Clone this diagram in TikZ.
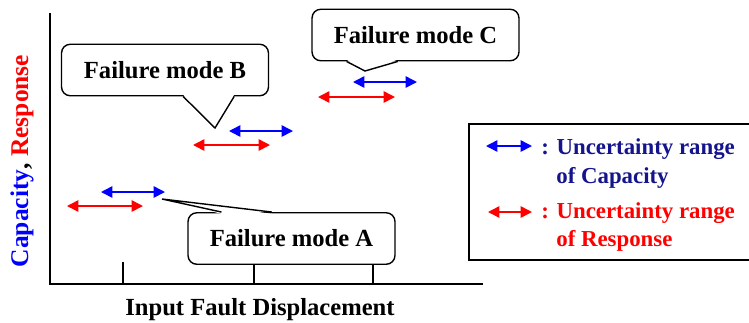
\documentclass[tikz,border=0pt]{standalone}
\usepackage{fontspec}
\setmainfont{Liberation Serif}
\usetikzlibrary{arrows.meta,calc}

\definecolor{capblue}{RGB}{0,0,255}
\definecolor{capnavy}{RGB}{20,20,140}
\definecolor{resred}{RGB}{255,0,0}

\tikzset{
  rangebar/.style={line width=0.9pt, {Triangle[length=6.5pt,width=6.5pt]}-{Triangle[length=6.5pt,width=6.5pt]}},
  caprange/.style={rangebar, capblue},
  resrange/.style={rangebar, resred},
  modebox/.style={draw, line width=0.8pt, rounded corners=5pt, fill=white,
    minimum width=4.14cm, minimum height=1.03cm, font=\fontsize{14}{16}\selectfont\bfseries},
  pointer/.style={line width=0.8pt, line join=miter},
  axis/.style={line width=0.8pt},
  legtext/.style={inner sep=0pt, anchor=base west, font=\fontsize{13}{15}\selectfont\bfseries},
}

\begin{document}
\begin{tikzpicture}[x=0.02cm, y=-0.02cm]
  \useasboundingbox (0,0) rectangle (749,322);

  % Axes
  \coordinate (ytop)   at (50,13);
  \coordinate (origin) at (50,284);
  \coordinate (xend)   at (483,284);
  \draw[axis] (ytop) -- (origin) -- (xend);
  \coordinate (t1) at (123,284);
  \coordinate (t2) at (254,284);
  \coordinate (t3) at (373,284);
  \draw[axis] (t1) -- ++(0,-22);
  \draw[axis] (t2) -- ++(0,-22);
  \draw[axis] (t3) -- ++(0,-22);

  \node[rotate=90, font=\fontsize{14.5}{16}\selectfont\bfseries] (ylab) at (22,161)
    {\textcolor{capblue}{Capacity}, \textcolor{resred}{Response}};
  \node[anchor=base, font=\fontsize{14}{16}\selectfont\bfseries] (xlab) at (260,315)
    {Input Fault Displacement};

  % Uncertainty ranges
  \coordinate (resA-l) at (67,206);   \coordinate (resA-r) at (143,206);
  \coordinate (capA-l) at (101,192);  \coordinate (capA-r) at (165,192);
  \coordinate (resB-l) at (193,145);  \coordinate (resB-r) at (270,145);
  \coordinate (capB-l) at (229,131);  \coordinate (capB-r) at (293,131);
  \coordinate (resC-l) at (318,97);   \coordinate (resC-r) at (395,97);
  \coordinate (capC-l) at (353,82);   \coordinate (capC-r) at (417,82);
  \draw[resrange] (resA-l) -- (resA-r);
  \draw[caprange] (capA-l) -- (capA-r);
  \draw[resrange] (resB-l) -- (resB-r);
  \draw[caprange] (capB-l) -- (capB-r);
  \draw[resrange] (resC-l) -- (resC-r);
  \draw[caprange] (capC-l) -- (capC-r);

  % Failure mode callouts
  \node[modebox] (modeB) at (165,70)    {Failure mode B};
  \node[modebox] (modeC) at (415.5,35)  {Failure mode C};
  \node[modebox] (modeA) at (291.5,238.5) {Failure mode A};

  \coordinate (tipB) at (215,128);
  \coordinate (b1) at ($(modeB.south west)!0.587!(modeB.south east)$);
  \coordinate (b2) at ($(modeB.south west)!0.832!(modeB.south east)$);
  \fill[white] ([yshift=1pt]b1) -- (tipB) -- ([yshift=1pt]b2) -- cycle;
  \draw[pointer] (b1) -- (tipB) -- (b2);

  \coordinate (tipC) at (365,71);
  \coordinate (c1) at ($(modeC.south west)!0.169!(modeC.south east)$);
  \coordinate (c2) at ($(modeC.south west)!0.415!(modeC.south east)$);
  \fill[white] ([yshift=1pt]c1) -- (tipC) -- ([yshift=1pt]c2) -- cycle;
  \draw[pointer] (c1) -- (tipC) -- (c2);

  \coordinate (tipA) at (162,199);
  \coordinate (a1) at ($(modeA.north west)!0.164!(modeA.north east)$);
  \coordinate (a2) at ($(modeA.north west)!0.406!(modeA.north east)$);
  \fill[white] ([yshift=-1pt]a1) -- (tipA) -- ([yshift=-1pt]a2) -- cycle;
  \draw[pointer] (a1) -- (tipA) -- (a2);

  % Legend
  \node[draw, line width=0.8pt, minimum width=5.66cm, minimum height=2.72cm] (legend) at (610.5,192) {};
  \coordinate (legcap-l) at (486,146);  \coordinate (legcap-r) at (532,146);
  \coordinate (legres-l) at (488,212);  \coordinate (legres-r) at (532,212);
  \draw[caprange] (legcap-l) -- (legcap-r);
  \draw[resrange] (legres-l) -- (legres-r);
  \node[legtext, capnavy] (capline1) at (541,154) {: Uncertainty range};
  \node[legtext, capnavy] (capline2) at (556,183) {of Capacity};
  \node[legtext, resred]  (resline1) at (541,218) {: Uncertainty range};
  \node[legtext, resred]  (resline2) at (556,246) {of Response};
\end{tikzpicture}
\end{document}
